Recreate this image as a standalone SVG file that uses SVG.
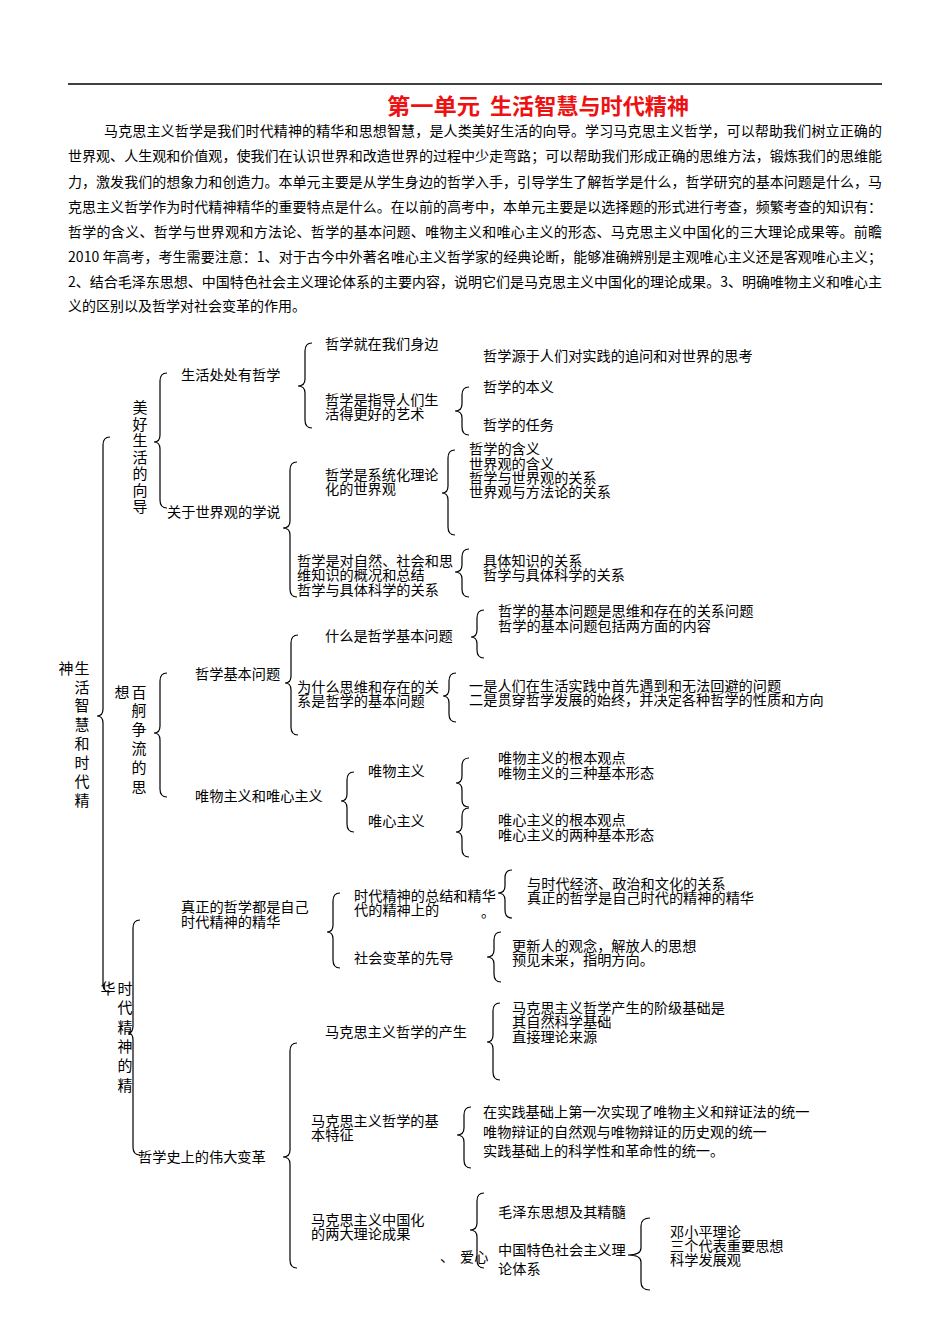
<svg xmlns="http://www.w3.org/2000/svg" width="950" height="1344" viewBox="0 0 950 1344">
<style>
text{font-family:"Noto Sans CJK SC","Noto Sans",sans-serif;fill:#000;}
.b{font-size:14px;}
.t{font-size:14.2px;}
.v{font-size:15px;text-anchor:middle;}
.title{font-size:22px;font-weight:bold;fill:#ee1111;}
.br{fill:none;stroke:#000;stroke-width:1.2;}
</style>
<rect width="950" height="1344" fill="#fff"/>
<line x1="68" y1="84" x2="882" y2="84" stroke="#000" stroke-width="1.6"/>
<g id="title">
<text class="title" x="387" y="114" textLength="93" lengthAdjust="spacingAndGlyphs">第一单元</text>
<text class="title" x="490" y="114" textLength="199" lengthAdjust="spacingAndGlyphs">生活智慧与时代精神</text>
</g>
<g id="intro" class="b">
<text class="b" x="104" y="136" textLength="778" lengthAdjust="spacing">马克思主义哲学是我们时代精神的精华和思想智慧，是人类美好生活的向导。学习马克思主义哲学，可以帮助我们树立正确的</text>
<text class="b" x="68" y="161" textLength="814" lengthAdjust="spacing">世界观、人生观和价值观，使我们在认识世界和改造世界的过程中少走弯路；可以帮助我们形成正确的思维方法，锻炼我们的思维能</text>
<text class="b" x="68" y="187" textLength="814" lengthAdjust="spacing">力，激发我们的想象力和创造力。本单元主要是从学生身边的哲学入手，引导学生了解哲学是什么，哲学研究的基本问题是什么，马</text>
<text class="b" x="68" y="212" textLength="814" lengthAdjust="spacing">克思主义哲学作为时代精神精华的重要特点是什么。在以前的高考中，本单元主要是以选择题的形式进行考查，频繁考查的知识有：</text>
<text class="b" x="68" y="237" textLength="814" lengthAdjust="spacing">哲学的含义、哲学与世界观和方法论、哲学的基本问题、唯物主义和唯心主义的形态、马克思主义中国化的三大理论成果等。前瞻</text>
<text class="b" x="68" y="262" textLength="814" lengthAdjust="spacing">2010 年高考，考生需要注意：1、对于古今中外著名唯心主义哲学家的经典论断，能够准确辨别是主观唯心主义还是客观唯心主义；</text>
<text class="b" x="68" y="287" textLength="814" lengthAdjust="spacing">2、结合毛泽东思想、中国特色社会主义理论体系的主要内容，说明它们是马克思主义中国化的理论成果。3、明确唯物主义和唯心主</text>
<text class="b" x="68" y="311">义的区别以及哲学对社会变革的作用。</text>
</g>
<g id="connectors">
<path class="br" d="M110,437 Q103,437 103,445 L103,709 Q103,716 97,716 Q103,716 103,723 L103,984 Q103,992 110,992"/>
<path class="br" d="M167,373 Q160,373 160,381 L160,435 Q160,442 154,442 Q160,442 160,449 L160,500 Q160,508 167,508"/>
<path class="br" d="M312,343 Q305,343 305,351 L305,379 Q305,386 298,386 Q305,386 305,393 L305,420 Q305,428 312,428"/>
<path class="br" d="M469,387 Q462,387 462,395 L462,404 Q462,411 455,411 Q462,411 462,418 L462,427 Q462,435 469,435"/>
<path class="br" d="M297,462 Q290,462 290,470 L290,521 Q290,528 283,528 Q290,528 290,535 L290,589 Q290,597 297,597"/>
<path class="br" d="M455,450 Q448,450 448,458 L448,486 Q448,493 442,493 Q448,493 448,500 L448,527 Q448,535 455,535"/>
<path class="br" d="M469,549 Q462,549 462,557 L462,565 Q462,572 455,572 Q462,572 462,579 L462,589 Q462,597 469,597"/>
<path class="br" d="M167,673 Q160,673 160,681 L160,726 Q160,733 154,733 Q160,733 160,740 L160,789 Q160,797 167,797"/>
<path class="br" d="M298,635 Q291,635 291,643 L291,676 Q291,683 285,683 Q291,683 291,690 L291,727 Q291,735 298,735"/>
<path class="br" d="M484,610 Q477,610 477,618 L477,630 Q477,637 471,637 Q477,637 477,644 L477,650 Q477,658 484,658"/>
<path class="br" d="M456,673 Q449,673 449,681 L449,689 Q449,696 443,696 Q449,696 449,703 L449,714 Q449,722 456,722"/>
<path class="br" d="M354,772 Q347,772 347,780 L347,794 Q347,801 341,801 Q347,801 347,808 L347,824 Q347,832 354,832"/>
<path class="br" d="M469,758 Q462,758 462,766 L462,776 Q462,783 456,783 Q462,783 462,790 L462,800 Q462,807 469,807"/>
<path class="br" d="M469,808 Q462,808 462,816 L462,825 Q462,832 456,832 Q462,832 462,839 L462,849 Q462,857 469,857"/>
<path class="br" d="M140,920 Q133,920 133,928 L133,1026 Q133,1033 128,1033 Q133,1033 133,1040 L133,1147 Q133,1155 140,1155"/>
<path class="br" d="M340,893 Q333,893 333,901 L333,925 Q333,932 327,932 Q333,932 333,939 L333,960 Q333,968 340,968"/>
<path class="br" d="M512,870 Q505,870 505,878 L505,886 Q505,893 498,893 Q505,893 505,900 L505,910 Q505,918 512,918"/>
<path class="br" d="M501,932 Q494,932 494,940 L494,950 Q494,957 487,957 Q494,957 494,964 L494,974 Q494,982 501,982"/>
<path class="br" d="M297,1043 Q290,1043 290,1051 L290,1150 Q290,1157 283,1157 Q290,1157 290,1164 L290,1260 Q290,1268 297,1268"/>
<path class="br" d="M500,1003 Q493,1003 493,1011 L493,1035 Q493,1042 487,1042 Q493,1042 493,1049 L493,1072 Q493,1080 500,1080"/>
<path class="br" d="M471,1107 Q464,1107 464,1115 L464,1128 Q464,1135 457,1135 Q464,1135 464,1142 L464,1160 Q464,1168 471,1168"/>
<path class="br" d="M484,1193 Q477,1193 477,1201 L477,1223 Q477,1230 470,1230 Q477,1230 477,1237 L477,1260 Q477,1268 484,1268"/>
<path class="br" d="M650,1218 Q641,1218 641,1226 L641,1248 Q641,1255 628,1255 Q641,1255 641,1262 L641,1282 Q641,1290 650,1290"/>
</g>
<g id="root">
<text class="v" x="66" y="674">神</text>
<text class="v"><tspan x="82" y="674">生</tspan><tspan x="82" y="693">活</tspan><tspan x="82" y="711">智</tspan><tspan x="82" y="730">慧</tspan><tspan x="82" y="749">和</tspan><tspan x="82" y="768">时</tspan><tspan x="82" y="787">代</tspan><tspan x="82" y="806">精</tspan></text>
<text class="v" x="108" y="994">华</text>
</g>
<g id="n-meihao">
<text class="v"><tspan x="140" y="413">美</tspan><tspan x="140" y="430">好</tspan><tspan x="140" y="446">生</tspan><tspan x="140" y="463">活</tspan><tspan x="140" y="479">的</tspan><tspan x="140" y="496">向</tspan><tspan x="140" y="512">导</tspan></text>
</g>
<g id="n-shenghuo"><text class="t" x="181" y="380">生活处处有哲学</text></g>
<g id="n-guanyu"><text class="t" x="167" y="517">关于世界观的学说</text></g>
<g id="n-shenbian"><text class="t" x="325" y="349">哲学就在我们身边</text></g>
<g id="n-yuanyu"><text class="t" x="483" y="361">哲学源于人们对实践的追问和对世界的思考</text></g>
<g id="n-zhidao"><text class="t" x="325" y="405">哲学是指导人们生</text><text class="t" x="325" y="419">活得更好的艺术</text></g>
<g id="n-benyi"><text class="t" x="483" y="392">哲学的本义</text></g>
<g id="n-renwu"><text class="t" x="483" y="430">哲学的任务</text></g>
<g id="n-xitong"><text class="t" x="325" y="480">哲学是系统化理论</text><text class="t" x="325" y="494">化的世界观</text></g>
<g id="n-hanyi"><text class="t" x="469" y="454">哲学的含义</text><text class="t" x="469" y="469">世界观的含义</text><text class="t" x="469" y="483">哲学与世界观的关系</text><text class="t" x="469" y="497">世界观与方法论的关系</text></g>
<g id="n-ziran"><text class="t" x="297" y="566">哲学是对自然、社会和思</text><text class="t" x="297" y="580">维知识的概况和总结</text><text class="t" x="297" y="595">哲学与具体科学的关系</text></g>
<g id="n-juti"><text class="t" x="483" y="566">具体知识的关系</text><text class="t" x="483" y="580">哲学与具体科学的关系</text></g>
<g id="n-baige">
<text class="v" x="122" y="698">想</text>
<text class="v"><tspan x="139" y="698">百</tspan><tspan x="139" y="716">舸</tspan><tspan x="139" y="735">争</tspan><tspan x="139" y="754">流</tspan><tspan x="139" y="773">的</tspan><tspan x="139" y="793">思</tspan></text>
</g>
<g id="n-jiben"><text class="t" x="195" y="679">哲学基本问题</text></g>
<g id="n-weiwuweixin"><text class="t" x="195" y="801">唯物主义和唯心主义</text></g>
<g id="n-shenme"><text class="t" x="325" y="641">什么是哲学基本问题</text></g>
<g id="n-weishenme"><text class="t" x="297" y="692">为什么思维和存在的关</text><text class="t" x="297" y="706">系是哲学的基本问题</text></g>
<g id="n-jibenshi"><text class="t" x="498" y="616">哲学的基本问题是思维和存在的关系问题</text><text class="t" x="498" y="631">哲学的基本问题包括两方面的内容</text></g>
<g id="n-yishi"><text class="t" x="469" y="691">一是人们在生活实践中首先遇到和无法回避的问题</text><text class="t" x="469" y="705">二是贯穿哲学发展的始终，并决定各种哲学的性质和方向</text></g>
<g id="n-weiwu"><text class="t" x="368" y="776">唯物主义</text></g>
<g id="n-weixin"><text class="t" x="368" y="826">唯心主义</text></g>
<g id="n-weiwu-c"><text class="t" x="498" y="763">唯物主义的根本观点</text><text class="t" x="498" y="778">唯物主义的三种基本形态</text></g>
<g id="n-weixin-c"><text class="t" x="498" y="825">唯心主义的根本观点</text><text class="t" x="498" y="840">唯心主义的两种基本形态</text></g>
<g id="n-shidai">
<text class="v"><tspan x="125" y="994">时</tspan><tspan x="125" y="1013">代</tspan><tspan x="125" y="1033">精</tspan><tspan x="125" y="1052">神</tspan><tspan x="125" y="1071">的</tspan><tspan x="125" y="1091">精</tspan></text>
</g>
<g id="n-zhenzheng"><text class="t" x="181" y="912">真正的哲学都是自己</text><text class="t" x="181" y="927">时代精神的精华</text></g>
<g id="n-weida"><text class="t" x="138" y="1162">哲学史上的伟大变革</text></g>
<g id="n-zongjie"><text class="t" x="354" y="901">时代精神的总结和精华</text><text class="t" x="354" y="915">代的精神上的</text><text class="t" x="481" y="917">。</text></g>
<g id="n-zongjie-c"><text class="t" x="527" y="889">与时代经济、政治和文化的关系</text><text class="t" x="527" y="903">真正的哲学是自己时代的精神的精华</text></g>
<g id="n-xiandao"><text class="t" x="354" y="963">社会变革的先导</text></g>
<g id="n-xiandao-c"><text class="t" x="512" y="951">更新人的观念，解放人的思想</text><text class="t" x="512" y="965">预见未来，指明方向。</text></g>
<g id="n-chansheng"><text class="t" x="325" y="1037">马克思主义哲学的产生</text></g>
<g id="n-chansheng-c"><text class="t" x="512" y="1013">马克思主义哲学产生的阶级基础是</text><text class="t" x="512" y="1027">其自然科学基础</text><text class="t" x="512" y="1042">直接理论来源</text></g>
<g id="n-tezheng"><text class="t" x="311" y="1126">马克思主义哲学的基</text><text class="t" x="311" y="1140">本特征</text></g>
<g id="n-tezheng-c"><text class="t" x="483" y="1117">在实践基础上第一次实现了唯物主义和辩证法的统一</text><text class="t" x="483" y="1137">唯物辩证的自然观与唯物辩证的历史观的统一</text><text class="t" x="483" y="1156">实践基础上的科学性和革命性的统一。</text></g>
<g id="n-zhongguohua"><text class="t" x="311" y="1225">马克思主义中国化</text><text class="t" x="311" y="1239">的两大理论成果</text></g>
<g id="n-aixin"><text class="t" x="440" y="1262">、</text><text class="t" x="460" y="1262">爱心</text></g>
<g id="n-mao"><text class="t" x="498" y="1217">毛泽东思想及其精髓</text></g>
<g id="n-tese"><text class="t" x="498" y="1255">中国特色社会主义理</text><text class="t" x="498" y="1274">论体系</text></g>
<g id="n-tese-c"><text class="t" x="670" y="1237">邓小平理论</text><text class="t" x="670" y="1251">三个代表重要思想</text><text class="t" x="670" y="1265">科学发展观</text></g>
</svg>
